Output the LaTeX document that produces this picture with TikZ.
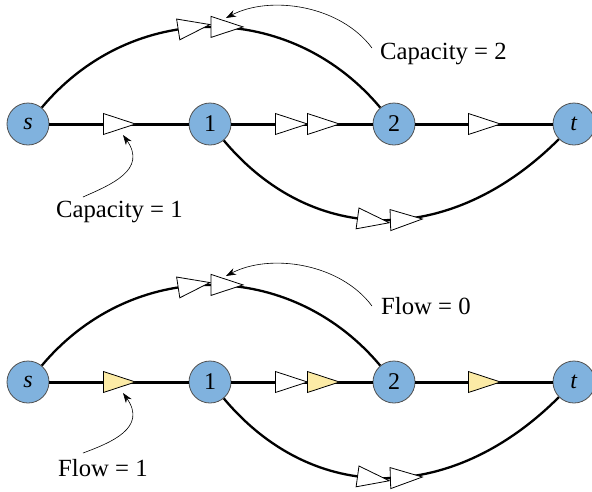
\documentclass[tikz,border=0pt]{standalone}
\usepackage{fontspec}
\setmainfont{Liberation Serif}
\usetikzlibrary{decorations.markings,arrows.meta}
\definecolor{nodeblue}{HTML}{80B2DE}
\definecolor{flowyellow}{HTML}{FCEBA6}
\definecolor{nodeborder}{HTML}{505050}
\tikzset{
 vtx/.style={circle,minimum size=42pt,inner sep=0pt,fill=nodeblue,draw=nodeborder,line width=0.8pt,font=\fontsize{24}{28}\selectfont},
 edge/.style={line width=3pt},
 arcedge/.style={line width=2.3pt},
 tri/.style={draw=black,line width=0.8pt,fill=white,line join=miter},
 ytri/.style={tri,fill=flowyellow},
 capmark/.style={postaction={decorate,decoration={markings,mark=at position #1 with {\draw[tri] (0,-10.5)--(32,0)--(0,10.5)--cycle;}}}},
 flowmark/.style={postaction={decorate,decoration={markings,mark=at position #1 with {\draw[ytri] (0,-10.5)--(32,0)--(0,10.5)--cycle;}}}},
 callout/.style={line width=0.6pt,-{Stealth[length=10pt,width=7pt]}},
 lbl/.style={font=\fontsize{24.7}{29}\selectfont,inner sep=0pt,anchor=base west},
}
\begin{document}
\begin{tikzpicture}[x=1pt,y=-1pt]
\useasboundingbox (0,0) rectangle (592,491);
% ---------- top: capacities ----------
\node[vtx] (s) at (28,124) {\textit{s}};
\node[vtx] (a) at (210,124) {1};
\node[vtx] (b) at (394,124) {2};
\node[vtx] (t) at (574,124) {\textit{t}};
\draw[edge,capmark=54pt] (s) -- (a);
\draw[edge,capmark=44pt,capmark=76pt] (a) -- (b);
\draw[edge,capmark=53pt] (b) -- (t);
\draw[arcedge,capmark=0.415,capmark=0.5] (s.50) .. controls (132,0) and (290,0) .. (b.130);
\draw[arcedge,capmark=0.414,capmark=0.5] (a.-50) .. controls (313,247) and (451,247) .. (t.-135);
\coordinate (tipA) at (226,18);
\coordinate (tipB) at (123,135);
\node[lbl] (cap2) at (380,59) {Capacity = 2};
\node[lbl] (cap1) at (56,217) {Capacity = 1};
\draw[callout] ([shift={(-8,-11)}]cap2.base west) .. controls (340,5) and (270,-5) .. (tipA);
\draw[callout] ([shift={(27,-20)}]cap1.base west) .. controls (110,185) and (148,170) .. (tipB);
% ---------- bottom: flows ----------
\begin{scope}[shift={(0,258)}]
\node[vtx] (s2) at (28,124) {\textit{s}};
\node[vtx] (a2) at (210,124) {1};
\node[vtx] (b2) at (394,124) {2};
\node[vtx] (t2) at (574,124) {\textit{t}};
\draw[edge,flowmark=54pt] (s2) -- (a2);
\draw[edge,capmark=44pt,flowmark=76pt] (a2) -- (b2);
\draw[edge,flowmark=53pt] (b2) -- (t2);
\draw[arcedge,capmark=0.415,capmark=0.5] (s2.50) .. controls (132,0) and (290,0) .. (b2.130);
\draw[arcedge,capmark=0.414,capmark=0.5] (a2.-50) .. controls (313,247) and (451,247) .. (t2.-135);
\coordinate (tipC) at (226,18);
\coordinate (tipD) at (123,135);
\end{scope}
\node[lbl] (flow0) at (381,314) {Flow = 0};
\node[lbl] (flow1) at (58,476.5) {Flow = 1};
\draw[callout] ([shift={(-9,-8)}]flow0.base west) .. controls (340,263) and (270,253) .. (tipC);
\draw[callout] ([shift={(25,-23.5)}]flow1.base west) .. controls (110,443) and (148,428) .. (tipD);
\end{tikzpicture}
\end{document}
